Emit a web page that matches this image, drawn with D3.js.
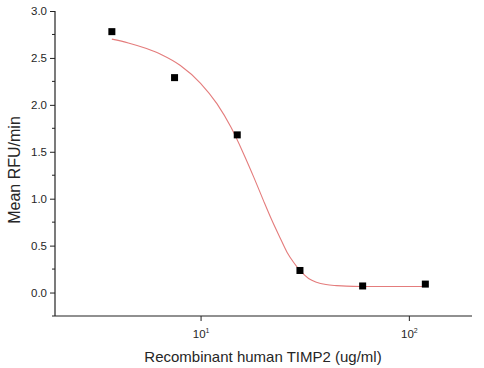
<!DOCTYPE html>
<html>
<head>
<meta charset="utf-8">
<script src="https://cdn.jsdelivr.net/npm/d3@7"></script>
<style>
  html, body { margin: 0; padding: 0; background: #fff; }
  svg { display: block; }
  text { font-family: Arial, "Liberation Sans", Helvetica, sans-serif; }
</style>
</head>
<body>
<svg id="chart" width="484" height="368"></svg>
<script>
// ---- Data ----
const concentrations = [3.75, 7.5, 15, 30, 60, 120];       // ug/ml
const meanRFU = [2.78, 2.29, 1.68, 0.235, 0.07, 0.09];      // Mean RFU/min

// Fitted curve
const fitX = [3.75, 4.5, 5.5, 6.5, 8, 10, 12, 14, 16, 18, 20, 22, 24, 26, 28, 30, 33, 36, 40, 45, 50, 60, 80, 100, 120];
const fitY = [2.70, 2.66, 2.60, 2.535, 2.42, 2.23, 2.01, 1.76, 1.49, 1.23, 0.985, 0.77, 0.59, 0.43, 0.32, 0.235, 0.15, 0.11, 0.085, 0.074, 0.068, 0.065, 0.064, 0.064, 0.064];

const yMajorTicks = [0.0, 0.5, 1.0, 1.5, 2.0, 2.5, 3.0];
const yMinorTicks = [-0.25, 0.25, 0.75, 1.25, 1.75, 2.25, 2.75];
const xTicks = [10, 100];
const xTickExponents = ["1", "2"];

const xTitle = "Recombinant human TIMP2 (ug/ml)";
const yTitle = "Mean RFU/min";

// ---- Layout ----
const svg = d3.select("#chart");
const mLeft = 55, mRight = 472, mTop = 11, mBottom = 316;

const x = d3.scaleLog().domain([2.0, 201]).range([mLeft, mRight]);
const y = d3.scaleLinear().domain([-0.25, 3.0]).range([mBottom, mTop]);

const textColor = "#262626";

// Y axis
const yAxis = svg.append("g").attr("transform", `translate(${mLeft},0)`);
yAxis.call(d3.axisLeft(y).tickValues(yMajorTicks).tickFormat(d3.format(".1f")).tickSize(5).tickPadding(3))
  .call(g => g.select(".domain").attr("d", `M0,${mTop}V${mBottom}`).attr("stroke", "#222").attr("stroke-width", 1.2))
  .call(g => g.selectAll(".tick line").attr("stroke", "#222"))
  .call(g => g.selectAll(".tick text").attr("fill", textColor).style("font-size", "11.5px"));
yAxis.selectAll(".minor").data(yMinorTicks).enter().append("line")
  .attr("class", "minor")
  .attr("x1", -3).attr("x2", 0)
  .attr("y1", d => y(d)).attr("y2", d => y(d))
  .attr("stroke", "#222");

// X axis
const xAxis = svg.append("g").attr("transform", `translate(0,${mBottom})`);
xAxis.call(d3.axisBottom(x).tickValues(xTicks).tickFormat(() => "").tickSize(5))
  .call(g => g.select(".domain").attr("d", `M${mLeft},0H${mRight}`).attr("stroke", "#222").attr("stroke-width", 1.2))
  .call(g => g.selectAll(".tick line").attr("stroke", "#222"));
xAxis.selectAll(".tick").each(function(d, i) {
  const t = d3.select(this).append("text")
    .attr("y", 22).attr("fill", textColor)
    .attr("text-anchor", "middle")
    .style("font-size", "11.5px");
  t.append("tspan").text("10");
  t.append("tspan").attr("dy", -5).style("font-size", "7px").text(xTickExponents[i]);
});

// Axis titles
svg.append("text")
  .attr("x", 263).attr("y", 362)
  .attr("text-anchor", "middle")
  .attr("fill", textColor)
  .style("font-size", "15px")
  .text(xTitle);

svg.append("text")
  .attr("transform", `translate(20,170) rotate(-90)`)
  .attr("text-anchor", "middle")
  .attr("fill", textColor)
  .style("font-size", "16px")
  .text(yTitle);

// Fit curve
const fitData = fitX.map((v, i) => [v, fitY[i]]);
svg.append("path")
  .datum(fitData)
  .attr("fill", "none")
  .attr("stroke", "#e47c7c")
  .attr("stroke-width", 1.1)
  .attr("d", d3.line().x(d => x(d[0])).y(d => y(d[1])).curve(d3.curveMonotoneX));

// Data points
const sym = 7;
svg.selectAll(".pt").data(concentrations).enter().append("rect")
  .attr("class", "pt")
  .attr("x", d => x(d) - sym / 2)
  .attr("y", (d, i) => y(meanRFU[i]) - sym / 2)
  .attr("width", sym).attr("height", sym)
  .attr("fill", "#000");
</script>
</body>
</html>
